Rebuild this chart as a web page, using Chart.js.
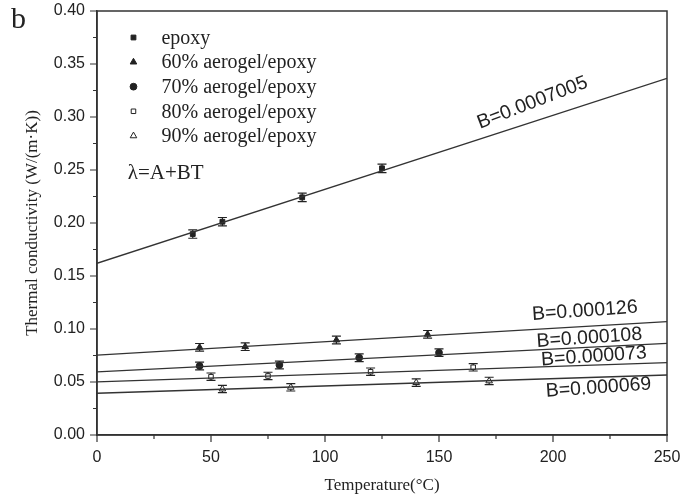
<!DOCTYPE html>
<html>
<head>
<meta charset="utf-8">
<script src="https://cdn.jsdelivr.net/npm/chart.js@4/dist/chart.umd.min.js"></script>
<style>
html, body { margin: 0; padding: 0; background: #fff; }
</style>
</head>
<body>
<canvas id="chart" width="697" height="499"></canvas>
<script>
// measured points (temperature in C, conductivity in W/(m K))
var seriesNames = ['epoxy', '60% aerogel/epoxy', '70% aerogel/epoxy', '80% aerogel/epoxy', '90% aerogel/epoxy'];
var tEpoxy = [42, 55, 90, 125];
var kEpoxy = [0.1896, 0.2012, 0.2242, 0.2516];
var t60 = [45, 65, 105, 145];
var k60 = [0.0827, 0.0833, 0.0896, 0.0950];
var t70 = [45, 80, 115, 150];
var k70 = [0.0651, 0.0660, 0.0729, 0.0777];
var t80 = [50, 75, 120, 165];
var k80 = [0.0550, 0.0557, 0.0597, 0.0639];
var t90 = [55, 85, 140, 172];
var k90 = [0.0434, 0.0450, 0.0494, 0.0510];
var errEpoxy = [0.004, 0.004, 0.004, 0.004];
var err60 = [0.0036, 0.0036, 0.0036, 0.0036];
var err70 = [0.0036, 0.0036, 0.0036, 0.0036];
var err80 = [0.0035, 0.0035, 0.0035, 0.0035];
var err90 = [0.0035, 0.0035, 0.0035, 0.0035];

// fitted lines, lambda = A + B T, read at T = 0 and T = 250
var fitT = [0, 250];
var fitEpoxy = [0.162, 0.3365];
var fit60 = [0.0754, 0.1069];
var fit70 = [0.0595, 0.0865];
var fit80 = [0.0502, 0.0682];
var fit90 = [0.0394, 0.0566];

var slopeText = ['B=0.0007005', 'B=0.000126', 'B=0.000108', 'B=0.000073', 'B=0.000069'];
var slopeAt = [[168, 0.289], [191, 0.1085], [193, 0.083], [195, 0.0655], [197, 0.036]];
var slopeAngle = [-21, -4, -4, -4, -4];

var xTicks = [0, 50, 100, 150, 200, 250];
var yTicks = [0.00, 0.05, 0.10, 0.15, 0.20, 0.25, 0.30, 0.35, 0.40];

var ink = '#222';
var pointStyles = ['rect', 'triangle', 'circle', 'rect', 'triangle'];
var pointFills = [ink, ink, ink, '#fff', '#fff'];
var pointSizes = [3.4, 3.8, 3.4, 3.2, 3.8];

function pts(xs, ys) {
    return xs.map(function (x, i) { return { x: x, y: ys[i] }; });
}

var pointSets = [[tEpoxy, kEpoxy, errEpoxy], [t60, k60, err60], [t70, k70, err70], [t80, k80, err80], [t90, k90, err90]];
var fits = [fitEpoxy, fit60, fit70, fit80, fit90];

var datasets = [];
fits.forEach(function (f, i) {
    datasets.push({
        label: 'fit ' + i,
        data: pts(fitT, f),
        showLine: true,
        borderColor: '#333',
        borderWidth: 1.3,
        pointRadius: 0,
        fill: false
    });
});
pointSets.forEach(function (s, i) {
    datasets.push({
        label: seriesNames[i],
        data: pts(s[0], s[1]),
        errors: s[2],
        showLine: false,
        pointStyle: pointStyles[i],
        pointRadius: pointSizes[i],
        backgroundColor: pointFills[i],
        borderColor: ink,
        borderWidth: 1
    });
});

// error bars under the markers
const errorBars = {
    id: 'errorBars',
    beforeDatasetsDraw: function (chart) {
        var ctx = chart.ctx, xs = chart.scales.x, ys = chart.scales.y;
        ctx.save();
        ctx.strokeStyle = ink;
        ctx.lineWidth = 1.2;
        chart.data.datasets.forEach(function (ds) {
            if (!ds.errors) return;
            ds.data.forEach(function (p, j) {
                var px = xs.getPixelForValue(p.x);
                var top = ys.getPixelForValue(p.y + ds.errors[j]);
                var bot = ys.getPixelForValue(p.y - ds.errors[j]);
                ctx.beginPath();
                ctx.moveTo(px, top); ctx.lineTo(px, bot);
                ctx.moveTo(px - 4.5, top); ctx.lineTo(px + 4.5, top);
                ctx.moveTo(px - 4.5, bot); ctx.lineTo(px + 4.5, bot);
                ctx.stroke();
            });
        });
        ctx.restore();
    }
};

// frame, tick marks, legend and text notes
const decorations = {
    id: 'decorations',
    afterDraw: function (chart) {
        var ctx = chart.ctx, a = chart.chartArea, xs = chart.scales.x, ys = chart.scales.y;
        ctx.save();
        ctx.strokeStyle = '#333';
        ctx.lineWidth = 1.5;
        ctx.strokeRect(a.left, a.top, a.right - a.left, a.bottom - a.top);

        ctx.lineWidth = 1.2;
        ctx.beginPath();
        xs.ticks.forEach(function (t) {
            var px = xs.getPixelForValue(t.value);
            var len = xTicks.indexOf(t.value) >= 0 ? 7 : 4;
            ctx.moveTo(px, a.bottom); ctx.lineTo(px, a.bottom + len);
        });
        ys.ticks.forEach(function (t) {
            var py = ys.getPixelForValue(t.value);
            var major = yTicks.some(function (v) { return Math.abs(v - t.value) < 1e-6; });
            var len = major ? 7 : 4;
            ctx.moveTo(a.left, py); ctx.lineTo(a.left - len, py);
        });
        ctx.stroke();

        // legend inside the plot
        var lx = xs.getPixelForValue(16);
        ctx.font = '20px "Liberation Serif", "Times New Roman", serif';
        ctx.textBaseline = 'middle';
        ctx.fillStyle = ink;
        seriesNames.forEach(function (name, i) {
            var ly = ys.getPixelForValue(0.375 - i * 0.0232);
            ctx.fillStyle = pointFills[i];
            ctx.strokeStyle = ink;
            ctx.lineWidth = 1;
            Chart.helpers.drawPoint(ctx, { pointStyle: pointStyles[i], radius: pointSizes[i], borderWidth: 1 }, lx, ly);
            ctx.fillStyle = ink;
            ctx.fillText(name, lx + 28, ly + 1);
        });
        ctx.font = '21px "Liberation Serif", "Times New Roman", serif';
        ctx.fillText('\u03bb=A+BT', xs.getPixelForValue(13.5), ys.getPixelForValue(0.247));

        // slope notes
        ctx.font = '19.5px "Liberation Sans", Arial, sans-serif';
        ctx.textBaseline = 'alphabetic';
        slopeText.forEach(function (s, i) {
            ctx.save();
            ctx.translate(xs.getPixelForValue(slopeAt[i][0]), ys.getPixelForValue(slopeAt[i][1]));
            ctx.rotate(slopeAngle[i] * Math.PI / 180);
            ctx.fillText(s, 0, 0);
            ctx.restore();
        });

        // panel letter
        ctx.font = '30px "Liberation Serif", "Times New Roman", serif';
        ctx.textBaseline = 'alphabetic';
        ctx.fillText('b', 11, 28);
        ctx.restore();
    }
};

new Chart(document.getElementById('chart'), {
    type: 'scatter',
    data: { datasets: datasets },
    plugins: [errorBars, decorations],
    options: {
        responsive: false,
        devicePixelRatio: 1,
        animation: false,
        layout: { padding: { top: 11, right: 30, left: 0, bottom: 0 } },
        plugins: {
            legend: { display: false },
            tooltip: { enabled: false }
        },
        scales: {
            x: {
                type: 'linear',
                min: 0,
                max: 250,
                afterFit: function (s) { s.height = 64; s.paddingLeft = 0; s.paddingRight = 0; },
                ticks: {
                    stepSize: 25,
                    padding: 13,
                    color: ink,
                    font: { family: '"Liberation Sans", Arial, sans-serif', size: 16 },
                    callback: function (v) { return xTicks.indexOf(v) >= 0 ? String(v) : ''; }
                },
                grid: { display: false, drawTicks: false },
                border: { display: true, color: '#333', width: 1.5 },
                title: {
                    display: true,
                    text: 'Temperature(\u00b0C)',
                    color: ink,
                    padding: { top: 0, bottom: 3 },
                    font: { family: '"Liberation Serif", "Times New Roman", serif', size: 17 }
                }
            },
            y: {
                type: 'linear',
                min: 0,
                max: 0.4,
                afterFit: function (s) { s.width = 97; s.paddingTop = 0; s.paddingBottom = 0; },
                ticks: {
                    stepSize: 0.025,
                    padding: 12,
                    color: ink,
                    font: { family: '"Liberation Sans", Arial, sans-serif', size: 16 },
                    callback: function (v) {
                        var major = yTicks.some(function (t) { return Math.abs(t - v) < 1e-6; });
                        return major ? v.toFixed(2) : '';
                    }
                },
                grid: { display: false, drawTicks: false },
                border: { display: true, color: '#333', width: 1.5 },
                title: {
                    display: true,
                    text: 'Thermal conductivity (W/(m\u00b7K))',
                    color: ink,
                    padding: { top: 22, bottom: 0 },
                    font: { family: '"Liberation Serif", "Times New Roman", serif', size: 17 }
                }
            }
        }
    }
});
</script>
</body>
</html>
